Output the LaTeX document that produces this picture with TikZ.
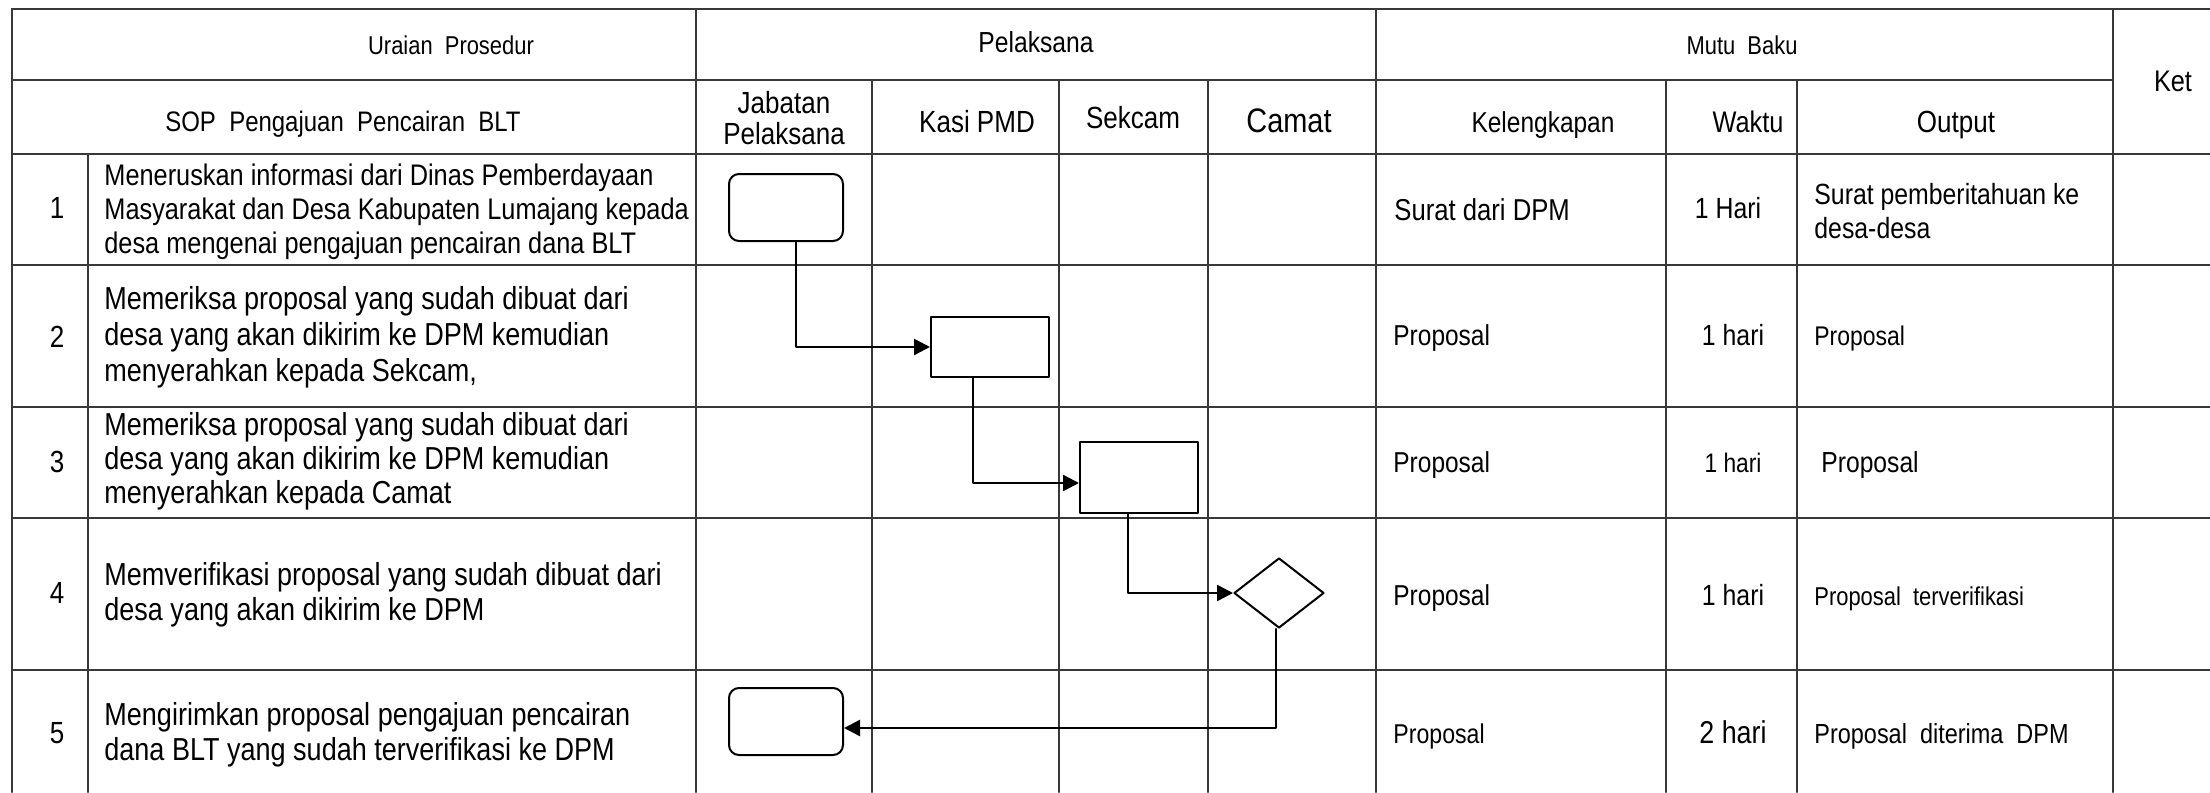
\documentclass[tikz,border=0pt]{standalone}
\usepackage{fontspec}
\setmainfont[FakeStretch=0.85]{Liberation Sans}
\usetikzlibrary{arrows.meta,positioning,calc,shapes.geometric}
\newcommand{\fsz}[2]{\fontsize{#1pt}{#2pt}\selectfont}
\tikzset{
  grid/.style={line width=1pt,draw=black!78},
  txt/.style={inner sep=0pt,anchor=base},
  ltxt/.style={inner sep=0pt,anchor=base west},
  para/.style={inner sep=0pt,anchor=west,align=left},
  term/.style={draw,rounded corners=5pt,line width=1pt,minimum width=57pt,
               minimum height=33.5pt,inner sep=0pt},
  proc/.style={draw,line width=1pt,minimum width=59pt,minimum height=30pt,inner sep=0pt},
  dec/.style={draw,diamond,line width=1pt,minimum width=45pt,minimum height=35pt,inner sep=0pt},
  flow/.style={line width=1.2pt,-{Triangle[length=8pt,width=8pt]}},
  every picture/.style={line cap=round,line join=round}}

\begin{document}
\begin{tikzpicture}[x=0.5pt,y=-0.5pt]
  \useasboundingbox (0,0) rectangle (2210,792);
  \draw[grid] (12,9)--(2210,9) (12,80)--(2113,80) (12,154)--(2210,154) (12,265)--(2210,265)
    (12,407)--(2210,407) (12,518)--(2210,518) (12,670)--(2210,670);
  \draw[grid] (12,9)--(12,792) (88,154)--(88,792) (696,9)--(696,792) (872,80)--(872,792)
    (1059,80)--(1059,792) (1208,80)--(1208,792) (1376,9)--(1376,792) (1666,80)--(1666,792)
    (1797,80)--(1797,792) (2113,9)--(2113,792);
  \node[txt,font=\fsz{12.9}{15}] (up) at (451,55){Uraian~~Prosedur};
  \node[txt,font=\fsz{14.5}{17}] (pl) at (1036,53){Pelaksana};
  \node[txt,font=\fsz{12.9}{15}] (mb) at (1742,55){Mutu~~Baku};
  \node[txt,font=\fsz{14.9}{17}] (ket) at (2173,92){Ket};
  \node[txt,font=\fsz{14.1}{17}] (sop) at (343,132){SOP~~Pengajuan~~Pencairan~~BLT};
  \node[inner sep=0pt,align=center,font=\fsz{15.3}{15.5}] (jp) at (784,118){Jabatan\\Pelaksana};
  \node[txt,font=\fsz{15.3}{17}] (kp) at (977,133){Kasi PMD};
  \node[txt,font=\fsz{15.3}{17}] (sk) at (1133,128){Sekcam};
  \node[txt,font=\fsz{17}{19}] (cm) at (1289,133){Camat};
  \node[txt,font=\fsz{14.4}{17}] (kl) at (1543,133){Kelengkapan};
  \node[txt,font=\fsz{14.9}{17}] (wk) at (1748,133){Waktu};
  \node[txt,font=\fsz{15.3}{17}] (op) at (1956,133){Output};
  \node[txt,font=\fsz{15.3}{17}] (n1) at (57,218){1};\node[txt,font=\fsz{15.3}{17}] (n2) at (57,347){2};
  \node[txt,font=\fsz{15.3}{17}] (n3) at (57,472){3};\node[txt,font=\fsz{15.3}{17}] (n4) at (57,603){4};
  \node[txt,font=\fsz{15.3}{17}] (n5) at (57,743){5};
  \node[para,font=\fsz{14.9}{17}] (u1) at (104,212){Meneruskan informasi dari Dinas Pemberdayaan\\
    Masyarakat dan Desa Kabupaten Lumajang kepada\\desa mengenai pengajuan pencairan dana BLT};
  \node[para,font=\fsz{15.9}{18}] (u2) at (104,337){Memeriksa proposal yang sudah dibuat dari\\
    desa yang akan dikirim ke DPM kemudian\\menyerahkan kepada Sekcam,};
  \node[para,font=\fsz{15.9}{17}] (u3) at (104,461){Memeriksa proposal yang sudah dibuat dari\\
    desa yang akan dikirim ke DPM kemudian\\menyerahkan kepada Camat};
  \node[para,font=\fsz{15.9}{17.5}] (u4) at (104,595){Memverifikasi proposal yang sudah dibuat dari\\
    desa yang akan dikirim ke DPM};
  \node[para,font=\fsz{15.9}{17.5}] (u5) at (104,735){Mengirimkan proposal pengajuan pencairan\\
    dana BLT yang sudah terverifikasi ke DPM};
  \node[ltxt,font=\fsz{15.1}{17}] (k1) at (1394,220){Surat dari DPM};
  \node[txt,font=\fsz{14.6}{17}] (w1) at (1728,218){1 Hari};
  \node[para,font=\fsz{14.6}{17}] (o1) at (1814,211){Surat pemberitahuan ke\\desa-desa};
  \node[ltxt,font=\fsz{14.4}{17}] (k2) at (1393,345){Proposal};
  \node[txt,font=\fsz{14.6}{17}] (w2) at (1733,345){1 hari};
  \node[ltxt,font=\fsz{13.5}{16}] (o2) at (1814,345){Proposal};
  \node[ltxt,font=\fsz{14.4}{17}] (k3) at (1393,472){Proposal};
  \node[txt,font=\fsz{13.4}{16}] (w3) at (1733,472){1 hari};
  \node[ltxt,font=\fsz{14.5}{17}] (o3) at (1821,472){Proposal};
  \node[ltxt,font=\fsz{14.4}{17}] (k4) at (1393,605){Proposal};
  \node[txt,font=\fsz{14.6}{17}] (w4) at (1733,605){1 hari};
  \node[ltxt,font=\fsz{12.9}{15}] (o4) at (1814,605){Proposal~~terverifikasi};
  \node[ltxt,font=\fsz{13.6}{16}] (k5) at (1393,743){Proposal};
  \node[txt,font=\fsz{15.8}{18}] (w5) at (1733,743){2 hari};
  \node[ltxt,font=\fsz{13.8}{16}] (o5) at (1814,743){Proposal~~diterima~~DPM};
  \node[term] (t1) at (786,207.5){};
  \node[proc] (b2) at (990,347){};
  \node[proc,minimum height=35.5pt] (b3) at (1139,477.5){};
  \node[dec] (d4) at (1279,593){};
  \node[term] (t5) at (786,721.5){};
  \draw[flow] ($(t1.south)+(10,0)$) |- (b2.west);
  \draw[flow] ($(b2.south)+(-17,0)$) |- ($(b3.west)+(0,5.5)$);
  \draw[flow] ($(b3.south)+(-11,0)$) |- (d4.west);
  \draw[flow] ($(d4.south)+(-3,0)$) |- ($(t5.east)+(0,6.5)$);
\end{tikzpicture}
\end{document}
